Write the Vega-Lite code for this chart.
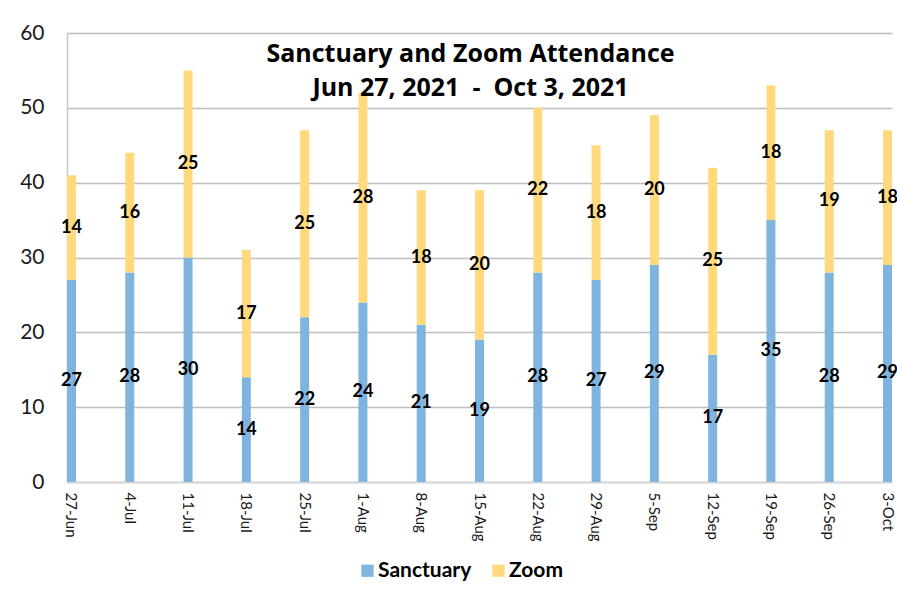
{
  "$schema": "https://vega.github.io/schema/vega-lite/v6.json",
  "autosize": {"type": "none"},
  "width": 825,
  "height": 449,
  "padding": {"left": 67, "top": 33, "right": 5, "bottom": 107},
  "background": "white",
  "config": {
    "font": "Lato",
    "view": {"stroke": null}
  },
  "title": {
    "text": ["Sanctuary and Zoom Attendance", "Jun 27, 2021\u00a0\u00a0-\u00a0\u00a0Oct 3, 2021"],
    "font": "Open Sans",
    "fontSize": 25,
    "fontWeight": "bold",
    "color": "#000000",
    "anchor": "middle",
    "frame": "group",
    "baseline": "alphabetic",
    "lineHeight": 34,
    "orient": "top",
    "offset": -99,
    "dx": -9
  },
  "data": {
    "values": [
      {"date": "27-Jun", "series": "Sanctuary", "value": 27},
      {"date": "27-Jun", "series": "Zoom", "value": 14},
      {"date": "4-Jul", "series": "Sanctuary", "value": 28},
      {"date": "4-Jul", "series": "Zoom", "value": 16},
      {"date": "11-Jul", "series": "Sanctuary", "value": 30},
      {"date": "11-Jul", "series": "Zoom", "value": 25},
      {"date": "18-Jul", "series": "Sanctuary", "value": 14},
      {"date": "18-Jul", "series": "Zoom", "value": 17},
      {"date": "25-Jul", "series": "Sanctuary", "value": 22},
      {"date": "25-Jul", "series": "Zoom", "value": 25},
      {"date": "1-Aug", "series": "Sanctuary", "value": 24},
      {"date": "1-Aug", "series": "Zoom", "value": 28},
      {"date": "8-Aug", "series": "Sanctuary", "value": 21},
      {"date": "8-Aug", "series": "Zoom", "value": 18},
      {"date": "15-Aug", "series": "Sanctuary", "value": 19},
      {"date": "15-Aug", "series": "Zoom", "value": 20},
      {"date": "22-Aug", "series": "Sanctuary", "value": 28},
      {"date": "22-Aug", "series": "Zoom", "value": 22},
      {"date": "29-Aug", "series": "Sanctuary", "value": 27},
      {"date": "29-Aug", "series": "Zoom", "value": 18},
      {"date": "5-Sep", "series": "Sanctuary", "value": 29},
      {"date": "5-Sep", "series": "Zoom", "value": 20},
      {"date": "12-Sep", "series": "Sanctuary", "value": 17},
      {"date": "12-Sep", "series": "Zoom", "value": 25},
      {"date": "19-Sep", "series": "Sanctuary", "value": 35},
      {"date": "19-Sep", "series": "Zoom", "value": 18},
      {"date": "26-Sep", "series": "Sanctuary", "value": 28},
      {"date": "26-Sep", "series": "Zoom", "value": 19},
      {"date": "3-Oct", "series": "Sanctuary", "value": 29},
      {"date": "3-Oct", "series": "Zoom", "value": 18}
    ]
  },
  "transform": [
    {"stack": "value", "groupby": ["date"], "sort": [{"field": "series", "order": "ascending"}], "as": ["v0", "v1"]}
  ],
  "encoding": {
    "x": {
      "field": "date",
      "type": "nominal",
      "sort": null,
      "scale": {"paddingInner": 0.846, "paddingOuter": 0},
      "axis": {
        "title": null,
        "labelAngle": 90,
        "labelFontSize": 15,
        "labelColor": "#1a1a1a",
        "labelPadding": 10,
        "ticks": false,
        "domainColor": "#d9d9d9",
        "domainWidth": 2,
        "grid": false
      }
    }
  },
  "layer": [
    {
      "mark": {"type": "bar"},
      "encoding": {
        "y": {
          "field": "v0",
          "type": "quantitative",
          "scale": {"domain": [0, 60], "nice": false},
          "axis": {
            "title": null,
            "values": [0, 10, 20, 30, 40, 50, 60],
            "labelFontSize": 21,
            "labelColor": "#1a1a1a",
            "labelPadding": 23,
            "ticks": false,
            "domainColor": "#c8c8c8",
            "domainWidth": 1.5,
            "grid": true,
            "gridColor": "#bdbdbd",
            "gridWidth": 1.5
          }
        },
        "y2": {"field": "v1"},
        "color": {
          "field": "series",
          "type": "nominal",
          "scale": {"domain": ["Sanctuary", "Zoom"], "range": ["#7EB4DE", "#FFD97B"]},
          "legend": {
            "title": null,
            "orient": "none",
            "direction": "horizontal",
            "legendX": 290,
            "legendY": 527,
            "padding": 0,
            "symbolType": "square",
            "symbolSize": 150,
            "symbolStrokeWidth": 0,
            "symbolOpacity": 1,
            "labelFontSize": 21,
            "labelFontWeight": "bold",
            "labelColor": "#000000",
            "labelOffset": 0,
            "columnPadding": 16
          }
        }
      }
    },
    {
      "transform": [
        {"fold": ["v0", "v1"], "as": ["edge", "pos"]}
      ],
      "mark": {"type": "text", "fontSize": 18, "fontWeight": "bold", "color": "#000000", "baseline": "middle", "align": "center"},
      "encoding": {
        "y": {"aggregate": "mean", "field": "pos", "type": "quantitative"},
        "detail": {"field": "series", "type": "nominal"},
        "text": {"aggregate": "max", "field": "value", "type": "quantitative"}
      }
    }
  ]
}
